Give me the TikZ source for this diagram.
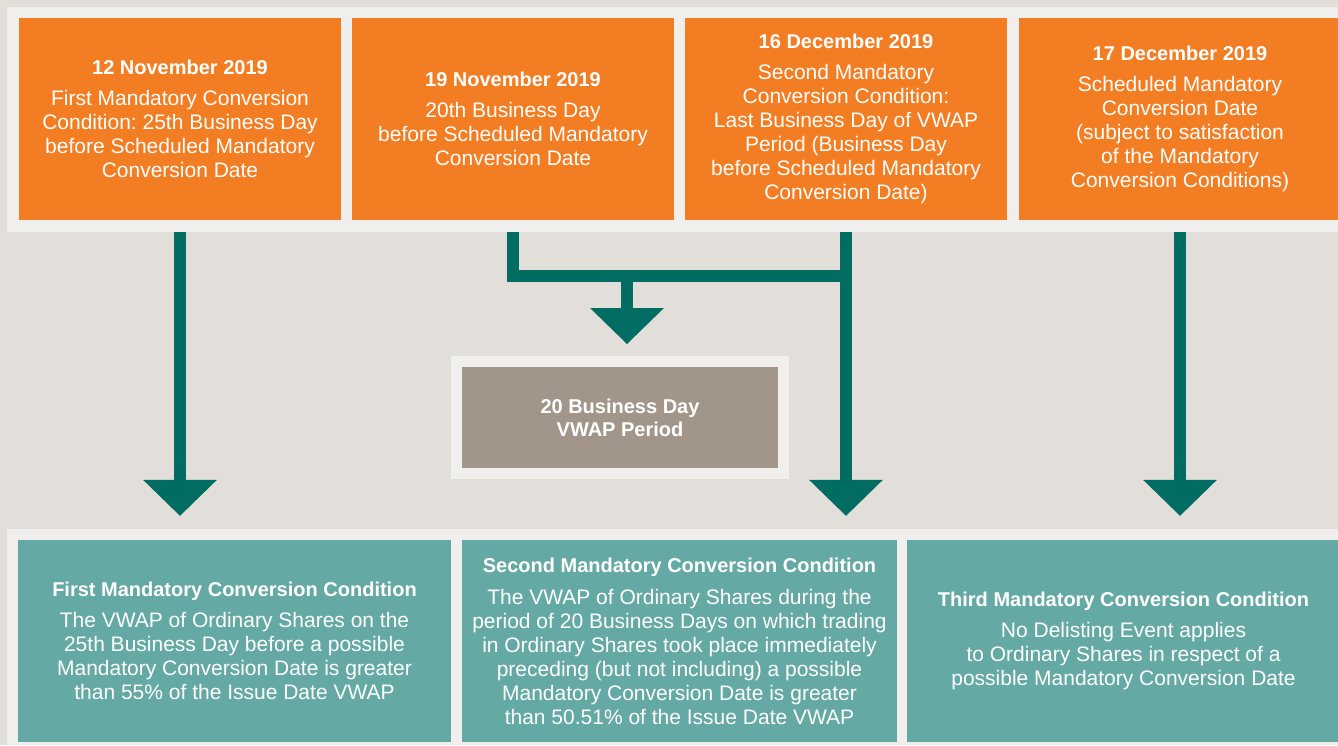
\documentclass[tikz,border=0pt]{standalone}
\usepackage{fontspec}
\setmainfont{Liberation Sans}
\usetikzlibrary{arrows.meta}
\frenchspacing

\definecolor{bggrey}{HTML}{E2DFDB}
\definecolor{stripgrey}{HTML}{F0EFED}
\definecolor{dateorange}{HTML}{F37D22}
\definecolor{condteal}{HTML}{65A9A5}
\definecolor{arrowteal}{HTML}{006C62}
\definecolor{periodgrey}{HTML}{A2968A}

\newcommand{\hd}[1]{{\fontsize{20}{24}\selectfont\bfseries #1}}

\begin{document}
\begin{tikzpicture}[x=1pt, y=-1pt,
    datebox/.style={fill=dateorange, text=white, align=center, inner sep=0pt,
        minimum width=322pt, minimum height=202pt, font=\fontsize{21}{24}\selectfont},
    condbox/.style={fill=condteal, text=white, align=center, inner sep=0pt,
        minimum width=433pt, minimum height=202pt, font=\fontsize{21}{24}\selectfont},
    shaft/.style={draw=arrowteal, line width=12pt},
    arr/.style={shaft, -{Triangle[width=74pt, length=36pt, line width=0pt]}}]
    \useasboundingbox[fill=bggrey] (0,0) rectangle (1338,745);
    \fill[stripgrey] (7,7) rectangle (1338,232);
    \fill[stripgrey] (7,529) rectangle (1338,745);

    % dates
    \node[datebox] (nov12) at (180,119) {\hd{12 November 2019}\\[7pt]First Mandatory Conversion\\Condition: 25th Business Day\\before Scheduled Mandatory\\Conversion Date};
    \node[datebox] (nov19) at (513,119) {\hd{19 November 2019}\\[7pt]20th Business Day\\before Scheduled Mandatory\\Conversion Date};
    \node[datebox] (dec16) at (846,119) {\hd{16 December 2019}\\[7pt]Second Mandatory\\Conversion Condition:\\Last Business Day of VWAP\\Period (Business Day\\before Scheduled Mandatory\\Conversion Date)};
    \node[datebox] (dec17) at (1180,119) {\hd{17 December 2019}\\[7pt]Scheduled Mandatory\\Conversion Date\\(subject to satisfaction\\of the Mandatory\\Conversion Conditions)};

    \node[draw=stripgrey, line width=11pt, fill=periodgrey, text=white, align=center,
        minimum width=327pt, minimum height=112pt, font=\fontsize{20}{23}\selectfont\bfseries]
        (vwap) at (620,417.5) {20 Business Day\\VWAP Period};

    % conditions
    \node[condbox] (cond1) at (234.5,641) {\hd{First Mandatory Conversion Condition}\\[7pt]The VWAP of Ordinary Shares on the\\25th Business Day before a possible\\Mandatory Conversion Date is greater\\than 55\% of the Issue Date VWAP};
    \node[condbox, minimum width=435pt] (cond2) at (679.5,641) {\hd{Second Mandatory Conversion Condition}\\[8pt]The VWAP of Ordinary Shares during the\\period of 20 Business Days on which trading\\in Ordinary Shares took place immediately\\preceding (but not including) a possible\\Mandatory Conversion Date is greater\\than 50.51\% of the Issue Date VWAP};
    \node[condbox] (cond3) at (1123.5,641) {\hd{Third Mandatory Conversion Condition}\\[7pt]No Delisting Event applies\\to Ordinary Shares in respect of a\\possible Mandatory Conversion Date};

    \coordinate (split) at (627,276);
    \draw[shaft] ([yshift=-12pt]nov19.south) |- ([yshift=-56pt]dec16.south);
    \draw[arr, shorten >=12pt] (split) -- (split |- vwap.north);
    \draw[arr, shorten >=24pt] ([yshift=-12pt]nov12.south) -- (nov12.south |- cond1.north);
    \draw[arr, shorten >=24pt] ([yshift=-12pt]dec16.south) -- (dec16.south |- cond2.north);
    \draw[arr, shorten >=24pt] ([yshift=-12pt]dec17.south) -- (dec17.south |- cond3.north);
\end{tikzpicture}
\end{document}
